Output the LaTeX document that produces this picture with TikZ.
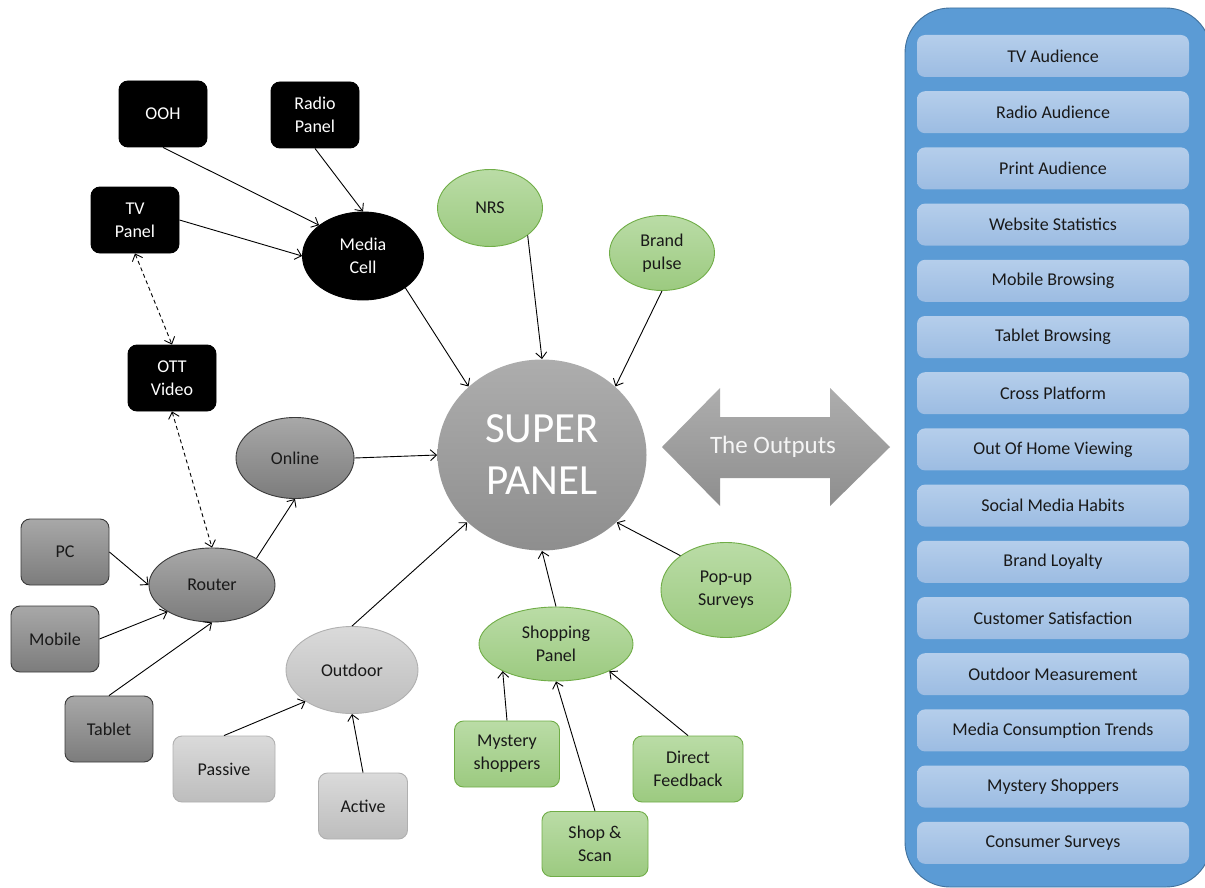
\documentclass[tikz,border=0pt]{standalone}
\usepackage{fontspec}
\setmainfont{Carlito}
\usepackage{tikz}
\usetikzlibrary{arrows.meta,shapes.geometric}

\definecolor{darktop}{HTML}{A8A8A8}
\definecolor{darkbot}{HTML}{7C7C7C}
\definecolor{darkline}{HTML}{3A3A3A}
\definecolor{lighttop}{HTML}{DADADA}
\definecolor{lightbot}{HTML}{BDBDBD}
\definecolor{lightline}{HTML}{B0B0B0}
\definecolor{grntop}{HTML}{BADCA6}
\definecolor{grnbot}{HTML}{9CCA80}
\definecolor{grnline}{HTML}{70AD47}
\definecolor{supertop}{HTML}{ADADAD}
\definecolor{superbot}{HTML}{8E8E8E}
\definecolor{paneblue}{HTML}{5B9BD5}
\definecolor{paneline}{HTML}{41719C}
\definecolor{outtop}{HTML}{B5CEEB}
\definecolor{outbot}{HTML}{9CBCE2}

\begin{document}
\begin{tikzpicture}[x=1pt, y=-1pt, line width=0.9pt, >={Straight Barb[length=6pt,width=11pt]}]
\tikzstyle{lbl}=[font=\fontsize{18}{23}\selectfont, align=center, inner sep=0pt, text=black!90]
\tikzstyle{blackbox}=[lbl, draw=black, fill=black, text=white, rounded corners=9pt, minimum width=88pt, minimum height=66pt]
\tikzstyle{blackell}=[lbl, ellipse, draw=black, fill=black, text=white]
\tikzstyle{darkbox}=[lbl, draw=darkline, top color=darktop, bottom color=darkbot, rounded corners=9pt, minimum width=88pt, minimum height=66pt]
\tikzstyle{darkell}=[lbl, ellipse, draw=darkline, top color=darktop, bottom color=darkbot]
\tikzstyle{lightbox}=[lbl, draw=lightline, top color=lighttop, bottom color=lightbot, rounded corners=9pt, minimum width=89pt, minimum height=66pt]
\tikzstyle{lightell}=[lbl, ellipse, draw=lightline, top color=lighttop, bottom color=lightbot]
\tikzstyle{greenbox}=[lbl, draw=grnline, top color=grntop, bottom color=grnbot, rounded corners=9pt, minimum height=66pt]
\tikzstyle{greenell}=[lbl, ellipse, draw=grnline, top color=grntop, bottom color=grnbot]
\tikzstyle{outbox}=[lbl, top color=outtop, bottom color=outbot, rounded corners=8pt, minimum width=272pt, minimum height=42pt]

\fill[white] (0,0) rectangle (1205,888);
\useasboundingbox (0,0) rectangle (1205,888);

% media side
\node[blackbox] (ooh) at (163,114) {OOH};
\node[blackbox] (radio) at (315,115) {Radio\\Panel};
\node[blackbox] (tvp) at (135,220) {TV\\Panel};
\node[blackell, minimum width=121pt, minimum height=88pt] (media) at (363,256) {Media\\Cell};
\node[blackbox] (ott) at (172,378) {OTT\\Video};

% online side
\node[darkell, minimum width=118pt, minimum height=81pt] (online) at (295,458) {Online};
\node[darkell, minimum width=126pt, minimum height=74pt] (router) at (212,585) {Router};
\node[darkbox] (pc) at (65,552) {PC};
\node[darkbox] (mobile) at (55,639) {Mobile};
\node[darkbox] (tablet) at (109,729) {Tablet};

% outdoor
\node[lightell, minimum width=132pt, minimum height=87pt] (outdoor) at (352,670) {Outdoor};
\node[lightbox, minimum width=102pt] (passive) at (224,769) {Passive};
\node[lightbox] (active) at (363,806) {Active};

% centre
\node[ellipse, top color=supertop, bottom color=superbot, minimum width=209pt, minimum height=191pt, inner sep=0pt,
      text=white, align=center, font=\fontsize{43}{52}\selectfont] (super) at (542,455) {SUPER\\PANEL};

% surveys and shopping
\node[greenell, minimum width=105pt, minimum height=77pt] (nrs) at (490,208) {NRS};
\node[greenell, minimum width=105pt, minimum height=75pt] (brand) at (662,253) {Brand\\pulse};
\node[greenell, minimum width=130pt, minimum height=95pt] (popup) at (726,590) {Pop-up\\Surveys};
\node[greenell, minimum width=154pt, minimum height=74pt] (shopping) at (556,644) {Shopping\\Panel};
\node[greenbox, minimum width=105pt] (mystery) at (507,754) {Mystery\\shoppers};
\node[greenbox, minimum width=106pt, minimum height=65pt] (scan) at (595,844) {Shop \&\\Scan};
\node[greenbox, minimum width=110pt] (direct) at (688,769) {Direct\\Feedback};

\draw[->] (ooh.south) -- (media.145);
\draw[->] (radio.south) -- (media.north);
\draw[->] (tvp.east) -- (media.west);
\draw[<->, dash pattern=on 4pt off 3pt] (tvp.south) -- (ott.north);
\draw[<->, dash pattern=on 4pt off 3pt] (ott.south) -- (router.north);
\draw[->] (media.-37) -- (super.137);
\draw[->] (nrs.-36) -- (super.north);
\draw[->] (brand.south) -- (super.43);
\draw[->] (online.east) -- (super.west);
\draw[->] (router.31) -- (online.south);
\draw[->] (pc.east) -- (router.west);
\draw[->] (mobile.east) -- (router.211);
\draw[->] (tablet.north) -- (router.south);
\draw[->] (outdoor.north) -- (super.222);
\draw[->] (passive.north) -- (outdoor.214);
\draw[->] (active.north) -- (outdoor.south);
\draw[->] (shopping.north) -- (super.south);
\draw[->] (popup.143) -- (super.-42);
\draw[->] (mystery.north) -- (shopping.207);
\draw[->] (scan.north) -- (shopping.south);
\draw[->] (direct.north) -- (shopping.-27);

% outputs arrow
\shade[top color=supertop, bottom color=superbot] (662,447) -- (720,388) -- (720,417) -- (830,417) -- (830,388)
  -- (890,447) -- (830,506) -- (830,478) -- (720,478) -- (720,506) -- cycle;
\node[font=\fontsize{25}{30}\selectfont, text=white!96!black] (outlbl) at (773,447) {The Outputs};

% outputs list
\begin{scope}
\clip (0,0) rectangle (1205,888);
\draw[fill=paneblue, draw=paneline, rounded corners=45pt] (905,8) rectangle (1211,887);
\end{scope}
\foreach \txt [count=\i from 0] in {TV Audience, Radio Audience, Print Audience, Website Statistics,
  Mobile Browsing, Tablet Browsing, Cross Platform, Out Of Home Viewing, Social Media Habits,
  Brand Loyalty, Customer Satisfaction, Outdoor Measurement, Media Consumption Trends,
  Mystery Shoppers, Consumer Surveys}
  \node[outbox] (out\i) at (1053,{56+56.2*\i}) {\txt};
\end{tikzpicture}
\end{document}
